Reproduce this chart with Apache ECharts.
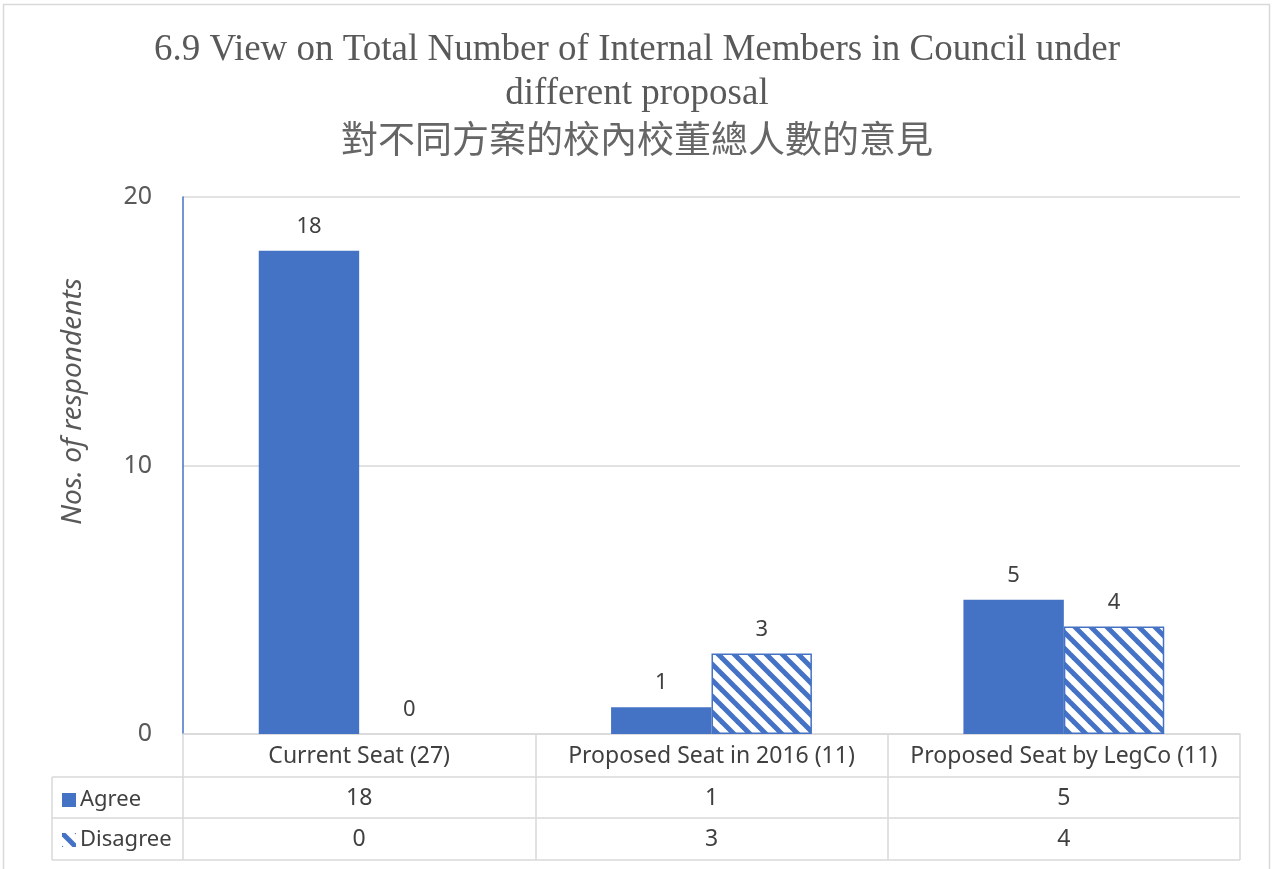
<!DOCTYPE html>
<html>
<head>
<meta charset="utf-8">
<script src="https://cdn.jsdelivr.net/npm/echarts@6/dist/echarts.min.js"></script>
<style>
  html, body { margin: 0; padding: 0; background: #ffffff; }
  #chart { width: 1274px; height: 869px; }
</style>
</head>
<body>
<div id="chart"></div>
<script>
// Survey counts per proposal
const categories = ['Current Seat (27)', 'Proposed Seat in 2016 (11)', 'Proposed Seat by LegCo (11)'];
const seriesNames = ['Agree', 'Disagree'];
const agree = [18, 1, 5];
const disagree = [0, 3, 4];
const yMin = 0, yMax = 20, yStep = 10;

const BLUE = '#4472C4';
const GRID_LINE = '#d9d9d9';
const TEXT = '#404040';
const SANS = '"Noto Sans", "Open Sans", sans-serif';

// layout of plot + data table
const G = { left: 183, right: 34, top: 197, bottom: 135 };
const W = 1274, H = 869;
const tableLeft = 52;

// diagonal hatch tile for the Disagree series
function hatchPattern() {
  const s = 16;
  const c = document.createElement('canvas');
  c.width = s; c.height = s;
  const ctx = c.getContext('2d');
  ctx.fillStyle = '#ffffff';
  ctx.fillRect(0, 0, s, s);
  ctx.strokeStyle = BLUE;
  ctx.lineWidth = 5;
  for (const k of [-s, 0, s]) {
    ctx.beginPath();
    ctx.moveTo(-s, -s + k);
    ctx.lineTo(2 * s, 2 * s + k);
    ctx.stroke();
  }
  return { image: c, repeat: 'repeat' };
}

const chart = echarts.init(document.getElementById('chart'), null, { renderer: 'canvas' });

const axisY = H - G.bottom;
const xRight = W - G.right;
const row1 = axisY + 43, row2 = row1 + 41, row3 = row2 + 42;

function hLine(y, x1, x2) {
  return { type: 'line', silent: true, shape: { x1: x1, y1: y, x2: x2, y2: y },
           style: { stroke: GRID_LINE, lineWidth: 1.5 } };
}
function vLine(x, y1, y2) {
  return { type: 'line', silent: true, shape: { x1: x, y1: y1, x2: x, y2: y2 },
           style: { stroke: GRID_LINE, lineWidth: 1.5 } };
}

const valueAxisRow = (vals, offset) => ({
  type: 'category',
  data: categories,
  position: 'bottom',
  offset: offset,
  gridIndex: 0,
  axisLine: { show: false },
  axisTick: { show: false },
  splitLine: { show: false },
  axisLabel: {
    interval: 0,
    formatter: (v, i) => String(vals[i]),
    fontFamily: SANS, fontSize: 23, color: TEXT, margin: 11
  }
});

chart.setOption({
  animation: false,
  backgroundColor: '#ffffff',
  title: {
    left: 'center',
    top: 28,
    padding: 0,
    text: '{en|6.9 View on Total Number of Internal Members in Council under}\n{en|different proposal}\n{zh|對不同方案的校內校董總人數的意見}',
    textStyle: {
      fontWeight: 'normal',
      rich: {
        en: { fontFamily: '"Liberation Serif", "Times New Roman", serif', fontSize: 37, fontWeight: 'normal', color: '#595959', lineHeight: 44 },
        zh: { fontFamily: '"Noto Sans CJK TC", sans-serif', fontSize: 37, fontWeight: 'normal', color: '#666666', lineHeight: 46 }
      }
    }
  },
  legend: {
    orient: 'vertical',
    left: 57,
    top: row1 + 7,
    itemWidth: 14,
    itemHeight: 14,
    itemGap: 18,
    icon: 'rect',
    textStyle: { fontFamily: SANS, fontSize: 22, color: TEXT, padding: [0, 0, 0, -1] },
    data: [
      { name: seriesNames[0] },
      { name: seriesNames[1], itemStyle: { borderWidth: 0 } }
    ]
  },
  grid: { left: G.left, right: G.right, top: G.top, bottom: G.bottom, containLabel: false },
  xAxis: [
    {
      type: 'category',
      data: categories,
      axisLine: { show: true, lineStyle: { color: GRID_LINE, width: 1.5 } },
      axisTick: { show: true, interval: 0, length: row3 - axisY, alignWithLabel: false, lineStyle: { color: GRID_LINE, width: 1.5 } },
      axisLabel: { interval: 0, fontFamily: SANS, fontSize: 23, color: TEXT, margin: 11 }
    },
    valueAxisRow(agree, 42),
    valueAxisRow(disagree, 83)
  ],
  yAxis: {
    type: 'value',
    min: yMin, max: yMax, interval: yStep,
    name: 'Nos. of respondents',
    nameLocation: 'middle',
    nameRotate: 90,
    nameGap: 96,
    nameTextStyle: { fontFamily: SANS, fontSize: 28, fontStyle: 'italic', color: '#595959', padding: [0, 0, 0, 128] },
    axisLine: { show: true, lineStyle: { color: BLUE, width: 1.5 } },
    axisTick: { show: false },
    axisLabel: { fontFamily: SANS, fontSize: 25, color: '#595959', margin: 31 },
    splitLine: { show: true, lineStyle: { color: GRID_LINE, width: 1.5 } }
  },
  series: [
    {
      name: seriesNames[0],
      type: 'bar',
      xAxisIndex: 0,
      data: agree,
      barGap: '0%',
      barCategoryGap: '43%',
      itemStyle: { color: BLUE },
      label: { show: true, position: 'top', distance: 13, fontFamily: SANS, fontSize: 22, color: TEXT }
    },
    {
      name: seriesNames[1],
      type: 'bar',
      xAxisIndex: 0,
      data: disagree.map(v => ({ value: v, itemStyle: v === 0 ? { borderWidth: 0 } : {} })),
      itemStyle: { color: hatchPattern(), borderColor: BLUE, borderWidth: 1.5 },
      label: { show: true, position: 'top', distance: 13, fontFamily: SANS, fontSize: 22, color: TEXT }
    }
  ],
  graphic: [
    // outer chart frame
    { type: 'rect', silent: true, shape: { x: 3.5, y: 4.5, width: 1266, height: 900 },
      style: { fill: null, stroke: GRID_LINE, lineWidth: 1.5 } },
    // data table rules
    hLine(row1, tableLeft, xRight),
    hLine(row2, tableLeft, xRight),
    hLine(row3, tableLeft, xRight),
    vLine(tableLeft, row1, row3)
  ]
});
</script>
</body>
</html>
